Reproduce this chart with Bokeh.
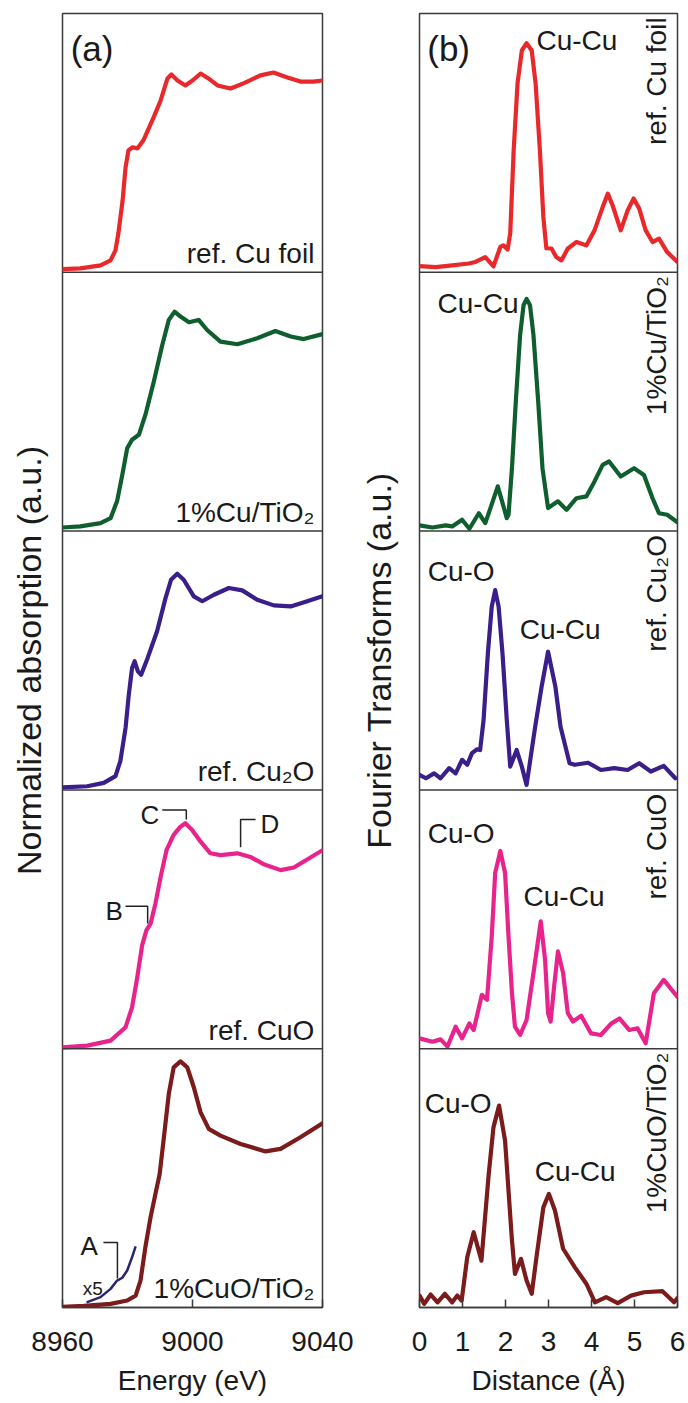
import math
from bokeh.plotting import figure
from bokeh.models import Range1d, FixedTicker, Span, Label
from bokeh.layouts import row
from bokeh.embed import file_html
from bokeh.resources import INLINE

# ---------------- XANES (panel a) : energy (eV) / normalized absorption (a.u.) ----------------
E_CU_FOIL = [8960, 8965.5, 8971.7, 8974.8, 8976.3, 8977.2, 8978.5, 8979.4, 8980.3, 8981.5,
             8983.1, 8984.9, 8988.0, 8990.2, 8992.3, 8993.5, 8995.4, 8997.8, 9000.0, 9002.5,
             9004.9, 9007.7, 9011.7, 9015.7, 9020.9, 9024.9, 9029.2, 9033.2, 9037.2, 9040]
MU_CU_FOIL = [0.012, 0.015, 0.027, 0.046, 0.085, 0.151, 0.278, 0.405, 0.471, 0.483,
              0.479, 0.510, 0.598, 0.664, 0.749, 0.764, 0.741, 0.722, 0.741, 0.768,
              0.749, 0.722, 0.710, 0.730, 0.761, 0.772, 0.753, 0.737, 0.737, 0.741]

E_CU_TIO2 = [8960, 8965.5, 8971.7, 8974.8, 8976.8, 8978.4, 8979.9, 8981.4, 8983.5, 8985.5,
             8988.1, 8990.7, 8992.7, 8994.5, 8996.3, 8998.9, 9001.9, 9004.5, 9008.6, 9013.8,
             9019.9, 9025.5, 9030.2, 9034.2, 9040]
MU_CU_TIO2 = [0.014, 0.018, 0.031, 0.050, 0.116, 0.217, 0.320, 0.353, 0.372, 0.449,
              0.578, 0.719, 0.816, 0.848, 0.829, 0.807, 0.816, 0.777, 0.732, 0.722,
              0.745, 0.773, 0.752, 0.742, 0.761]

E_CU2O = [8960, 8967.6, 8972.7, 8976.3, 8977.8, 8979.4, 8980.4, 8981.4, 8982.2, 8983.2,
          8984.2, 8986.2, 8989.1, 8991.7, 8993.4, 8995.3, 8997.3, 9000.4, 9003.0, 9006.6,
          9011.2, 9015.3, 9019.9, 9025.0, 9030.2, 9035.3, 9040]
MU_CU2O = [0.010, 0.014, 0.027, 0.053, 0.111, 0.239, 0.368, 0.471, 0.497, 0.458,
           0.445, 0.510, 0.613, 0.741, 0.812, 0.835, 0.812, 0.748, 0.729, 0.754,
           0.780, 0.771, 0.735, 0.713, 0.709, 0.729, 0.748]

E_CUO = [8960, 8967.6, 8974.8, 8979.4, 8981.4, 8983.0, 8984.5, 8985.8, 8987.1, 8988.6,
         8990.2, 8992.0, 8994.2, 8996.3, 8997.8, 8999.9, 9002.5, 9005.5, 9008.6, 9013.8,
         9017.8, 9021.9, 9027.1, 9031.2, 9035.8, 9040]
MU_CUO = [0.005, 0.012, 0.031, 0.083, 0.160, 0.276, 0.399, 0.457, 0.483, 0.561,
          0.664, 0.767, 0.826, 0.858, 0.871, 0.845, 0.800, 0.755, 0.748, 0.755,
          0.741, 0.713, 0.690, 0.700, 0.735, 0.767]

E_CUO_TIO2 = [8960, 8966.6, 8974.8, 8979.9, 8982.5, 8984.0, 8985.5, 8987.1, 8988.6, 8989.9,
              8991.2, 8992.7, 8994.2, 8996.3, 8998.4, 9000.4, 9002.5, 9005.0, 9008.6, 9014.8,
              9022.5, 9027.1, 9033.2, 9040]
MU_CUO_TIO2 = [0.003, 0.006, 0.014, 0.027, 0.046, 0.104, 0.233, 0.349, 0.439, 0.516,
               0.658, 0.825, 0.928, 0.951, 0.928, 0.851, 0.754, 0.690, 0.664, 0.632,
               0.603, 0.613, 0.658, 0.712]

# pre-edge of 1%CuO/TiO2 magnified x5
E_PREEDGE_X5 = [8967.4, 8971.7, 8974.8, 8976.8, 8978.4, 8979.9, 8981.4, 8982.5]
MU_PREEDGE_X5 = [0.020, 0.040, 0.072, 0.104, 0.115, 0.143, 0.194, 0.236]

# ---------------- Fourier transforms (panel b) : distance (Å) ----------------
R_CU_FOIL = [0, 0.38, 0.76, 1.15, 1.30, 1.53, 1.72, 1.88, 1.95, 2.05,
             2.11, 2.19, 2.28, 2.38, 2.49, 2.61, 2.70, 2.80, 2.88, 2.95,
             3.07, 3.18, 3.30, 3.45, 3.65, 3.88, 4.07, 4.26, 4.38, 4.49,
             4.68, 4.84, 4.98, 5.11, 5.26, 5.42, 5.57, 5.76, 6.0]
FT_CU_FOIL = [0.024, 0.020, 0.027, 0.034, 0.040, 0.059, 0.023, 0.098, 0.104, 0.088,
              0.151, 0.471, 0.730, 0.857, 0.885, 0.857, 0.730, 0.471, 0.214, 0.093,
              0.092, 0.059, 0.046, 0.092, 0.117, 0.104, 0.162, 0.252, 0.304, 0.259,
              0.162, 0.239, 0.285, 0.246, 0.162, 0.117, 0.130, 0.078, 0.040]

R_CU_TIO2 = [0, 0.30, 0.61, 0.76, 0.99, 1.16, 1.38, 1.53, 1.65, 1.82,
             1.92, 2.03, 2.07, 2.15, 2.24, 2.34, 2.42, 2.49, 2.57, 2.65,
             2.76, 2.86, 2.99, 3.22, 3.42, 3.65, 3.88, 4.07, 4.26, 4.41,
             4.68, 4.99, 5.22, 5.42, 5.57, 5.76, 5.99]
FT_CU_TIO2 = [0.022, 0.014, 0.022, 0.018, 0.044, 0.009, 0.069, 0.031, 0.089, 0.173,
              0.115, 0.050, 0.063, 0.243, 0.501, 0.758, 0.873, 0.897, 0.873, 0.758,
              0.501, 0.243, 0.089, 0.115, 0.082, 0.127, 0.134, 0.192, 0.256, 0.269,
              0.211, 0.243, 0.217, 0.127, 0.069, 0.063, 0.035]

R_CU2O = [0, 0.15, 0.34, 0.49, 0.69, 0.84, 0.99, 1.11, 1.22, 1.34,
          1.41, 1.49, 1.59, 1.68, 1.76, 1.84, 1.93, 2.03, 2.11, 2.26,
          2.38, 2.49, 2.69, 2.84, 2.99, 3.16, 3.28, 3.49, 3.61, 3.92,
          4.22, 4.53, 4.84, 5.11, 5.38, 5.68, 5.95]
FT_CU2O = [0.058, 0.045, 0.064, 0.045, 0.084, 0.064, 0.116, 0.097, 0.142, 0.157,
           0.154, 0.270, 0.528, 0.708, 0.772, 0.708, 0.528, 0.270, 0.090, 0.154,
           0.090, 0.019, 0.244, 0.399, 0.534, 0.399, 0.244, 0.103, 0.097, 0.105,
           0.077, 0.084, 0.077, 0.103, 0.071, 0.093, 0.045]

R_CUO = [0, 0.30, 0.49, 0.65, 0.84, 0.99, 1.16, 1.26, 1.45, 1.57,
         1.68, 1.76, 1.88, 1.99, 2.07, 2.15, 2.22, 2.34, 2.49, 2.65,
         2.82, 2.92, 2.99, 3.05, 3.13, 3.22, 3.34, 3.45, 3.57, 3.76,
         3.99, 4.22, 4.45, 4.65, 4.88, 5.07, 5.26, 5.45, 5.68, 5.99]
FT_CUO = [0.040, 0.027, 0.036, 0.008, 0.085, 0.040, 0.098, 0.072, 0.208, 0.189,
          0.434, 0.679, 0.764, 0.679, 0.434, 0.216, 0.085, 0.053, 0.111, 0.292,
          0.492, 0.344, 0.137, 0.105, 0.240, 0.376, 0.292, 0.137, 0.105, 0.127,
          0.059, 0.053, 0.096, 0.117, 0.072, 0.079, 0.021, 0.214, 0.266, 0.202]

R_CUO_TIO2 = [0, 0.11, 0.26, 0.42, 0.59, 0.76, 0.88, 0.98, 1.11, 1.26,
              1.44, 1.61, 1.72, 1.85, 1.99, 2.07, 2.15, 2.22, 2.36, 2.49,
              2.61, 2.72, 2.88, 3.01, 3.15, 3.34, 3.61, 3.88, 4.08, 4.34,
              4.61, 4.92, 5.22, 5.65, 5.92, 6.0]
FT_CUO_TIO2 = [0.046, 0.014, 0.050, 0.020, 0.053, 0.020, 0.046, 0.027, 0.194, 0.291,
               0.181, 0.516, 0.696, 0.780, 0.645, 0.452, 0.259, 0.130, 0.188, 0.104,
               0.053, 0.194, 0.387, 0.439, 0.375, 0.227, 0.156, 0.092, 0.020, 0.040,
               0.017, 0.046, 0.059, 0.063, 0.020, 0.037]

SAMPLE_LABELS = ["ref. Cu foil", "1%Cu/TiO\u2082", "ref. Cu\u2082O", "ref. CuO", "1%CuO/TiO\u2082"]
COLORS = ["#e8282a", "#0f5e2e", "#3a1e8a", "#e8238c", "#7c1b1c"]
PREEDGE_COLOR = "#2b2472"

XANES = [(E_CU_FOIL, MU_CU_FOIL), (E_CU_TIO2, MU_CU_TIO2), (E_CU2O, MU_CU2O),
         (E_CUO, MU_CUO), (E_CUO_TIO2, MU_CUO_TIO2)]
FTS = [(R_CU_FOIL, FT_CU_FOIL), (R_CU_TIO2, FT_CU_TIO2), (R_CU2O, FT_CU2O),
       (R_CUO, FT_CUO), (R_CUO_TIO2, FT_CUO_TIO2)]

# shell labels in (b): (panel, text, R, value)
SHELL_LABELS = [(0, "Cu-Cu", 2.72, 0.896), (1, "Cu-Cu", 0.42, 0.878),
                (2, "Cu-O", 0.19, 0.842), (2, "Cu-Cu", 2.33, 0.618),
                (3, "Cu-O", 0.19, 0.833), (3, "Cu-Cu", 2.42, 0.589),
                (4, "Cu-O", 0.12, 0.788), (4, "Cu-Cu", 2.68, 0.525)]

# feature markers in (a): (panel, letter, text E, text value, leader E list, leader value list)
FEATURES = [(3, "B", 8973.2, 0.531, [8979.4, 8986.2, 8986.2], [0.550, 0.550, 0.484]),
            (3, "C", 8984.0, 0.903, [8990.7, 8998.1, 8998.1], [0.922, 0.922, 0.886]),
            (3, "D", 9020.9, 0.869, [9014.8, 9014.8, 9019.4], [0.778, 0.886, 0.886]),
            (4, "A", 8965.5, 0.239, [8972.6, 8976.9, 8976.9], [0.251, 0.251, 0.112])]

ENERGY_TICKS = [8960, 9000, 9040]
DIST_TICKS = [0, 1, 2, 3, 4, 5, 6]

FONT = "Liberation Sans"
TXT = "#1a1a1a"
FRAME = "#3a3a3a"
H = 1400
NP = 5


def make_fig(width, xr, left, right, ticks, xlabel, ylabel, ylabel_standoff):
    p = figure(width=width, height=H, x_range=Range1d(*xr), y_range=Range1d(0, NP),
               output_backend="svg", toolbar_location=None,
               min_border_left=left, min_border_right=right,
               min_border_top=13, min_border_bottom=H - 13 - 1294)
    p.extra_y_ranges = {f"p{k}": Range1d(k - (NP - 1), k + 1) for k in range(NP)}
    p.background_fill_color = "white"
    p.border_fill_color = "white"
    p.outline_line_color = FRAME
    p.outline_line_width = 1.5
    p.xgrid.visible = False
    p.ygrid.visible = False
    xa = p.xaxis[0]
    xa.ticker = FixedTicker(ticks=ticks)
    xa.major_tick_in = 8
    xa.major_tick_out = 0
    xa.minor_tick_line_color = None
    xa.major_tick_line_color = FRAME
    xa.major_tick_line_width = 1.5
    xa.axis_line_color = FRAME
    xa.axis_line_width = 1.5
    xa.major_label_text_font = FONT
    xa.major_label_text_font_size = "28px"
    xa.major_label_text_color = TXT
    xa.major_label_standoff = 24
    xa.axis_label = xlabel
    xa.axis_label_text_font = FONT
    xa.axis_label_text_font_size = "28px"
    xa.axis_label_text_font_style = "normal"
    xa.axis_label_text_color = TXT
    xa.axis_label_standoff = 11
    ya = p.yaxis[0]
    ya.ticker = FixedTicker(ticks=[])
    ya.axis_line_color = None
    ya.major_tick_line_color = None
    ya.minor_tick_line_color = None
    ya.axis_label = ylabel
    ya.axis_label_text_font = FONT
    ya.axis_label_text_font_size = "34px"
    ya.axis_label_text_font_style = "normal"
    ya.axis_label_text_color = TXT
    ya.axis_label_standoff = ylabel_standoff
    for k in range(1, NP):
        p.add_layout(Span(location=k, dimension="width", line_color=FRAME, line_width=1.5))
    return p


pa = make_fig(356, (8960, 9040), 62, 34, ENERGY_TICKS, "Energy (eV)",
              "Normalized absorption (a.u.)", 15)
pb = make_fig(332, (0, 6), 61, 11, DIST_TICKS, "Distance (\u00c5)",
              "Fourier Transforms (a.u.)", 22)

for k in range(NP):
    e, mu = XANES[k]
    pa.line(e, mu, y_range_name=f"p{k}", line_color=COLORS[k], line_width=4.2,
            line_join="round", line_cap="round")
    r, ft = FTS[k]
    pb.line(r, ft, y_range_name=f"p{k}", line_color=COLORS[k], line_width=4.2,
            line_join="round", line_cap="round")
    pa.add_layout(Label(x=9037.5, y=0.072, y_range_name=f"p{k}", text=SAMPLE_LABELS[k],
                        text_align="right", text_baseline="alphabetic",
                        text_font=FONT, text_font_size="28px", text_color=TXT))
    pb.add_layout(Label(x=5.52, y=0.985, y_range_name=f"p{k}", text=SAMPLE_LABELS[k],
                        angle=math.pi / 2, text_align="right", text_baseline="alphabetic",
                        text_font=FONT, text_font_size="28px", text_color=TXT))

pa.line(E_PREEDGE_X5, MU_PREEDGE_X5, y_range_name="p4", line_color=PREEDGE_COLOR,
        line_width=2.5, line_join="round")
pa.add_layout(Label(x=8966.2, y=0.073, y_range_name="p4", text="x5", text_align="left",
                    text_baseline="alphabetic", text_font=FONT, text_font_size="19px",
                    text_color=TXT))

for k, letter, te, tv, le, lv in FEATURES:
    pa.line(le, lv, y_range_name=f"p{k}", line_color="#222222", line_width=1.5)
    pa.add_layout(Label(x=te, y=tv, y_range_name=f"p{k}", text=letter, text_align="left",
                        text_baseline="alphabetic", text_font=FONT, text_font_size="26px",
                        text_color=TXT))

for k, txt, rr, vv in SHELL_LABELS:
    pb.add_layout(Label(x=rr, y=vv, y_range_name=f"p{k}", text=txt, text_align="left",
                        text_baseline="alphabetic", text_font=FONT, text_font_size="28px",
                        text_color=TXT))

pa.add_layout(Label(x=8962.5, y=0.865, y_range_name="p0", text="(a)", text_align="left",
                    text_baseline="alphabetic", text_font=FONT, text_font_size="35px",
                    text_color=TXT))
pb.add_layout(Label(x=0.18, y=0.865, y_range_name="p0", text="(b)", text_align="left",
                    text_baseline="alphabetic", text_font=FONT, text_font_size="35px",
                    text_color=TXT))

layout = row(pa, pb)
open("out.html", "w").write(file_html(layout, INLINE))
